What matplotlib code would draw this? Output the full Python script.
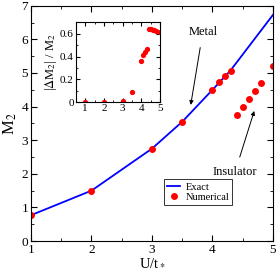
import matplotlib
matplotlib.use("Agg")
import matplotlib.pyplot as plt
from matplotlib.ticker import MultipleLocator, FuncFormatter

plt.rcParams['font.family'] = ['Liberation Serif', 'DejaVu Serif']
plt.rcParams['mathtext.fontset'] = 'stix'

# exact curve
u_exact = [1, 2, 3, 3.5, 4, 4.3, 5]
m2_exact = [0.77, 1.5, 2.75, 3.55, 4.5, 5.08, 6.73]

# numerical points
u_num = [1, 2, 3, 3.5, 4.0, 4.1, 4.2, 4.3, 4.4, 4.5, 4.6, 4.7, 4.8, 5.0]
m2_num = [0.77, 1.5, 2.75, 3.55, 4.49, 4.72, 4.92, 5.07, 3.76, 3.99, 4.22, 4.46, 4.70, 5.2]

# relative error (inset)
rel_err = [0.0, 0.0, 0.01, 0.085, 0.36, 0.41, 0.44, 0.47, 0.64, 0.64, 0.635, 0.63, 0.625, 0.615]

fig = plt.figure(figsize=(2.78, 2.73), dpi=100)
ax = fig.add_axes([0.1115, 0.117, 0.8705, 0.862])

ax.plot(u_exact, m2_exact, color='blue', lw=1.3, label='Exact')
ax.plot(u_num, m2_num, 'o', color='red', ms=5, mec='none', label='Numerical')
ax.set_xlim(1, 5)
ax.set_ylim(0, 7)
ax.xaxis.set_major_locator(MultipleLocator(1))
ax.xaxis.set_minor_locator(MultipleLocator(0.5))
ax.yaxis.set_major_locator(MultipleLocator(1))
ax.yaxis.set_minor_locator(MultipleLocator(0.5))
ax.tick_params(which='both', direction='in', top=True, right=True, labelsize=9.5, pad=2)
ax.tick_params(which='major', length=4)
ax.tick_params(which='minor', length=2)
ax.set_xlabel('U/t$_*$', fontsize=10.5, labelpad=0)
ax.set_ylabel('M$_2$', fontsize=12, labelpad=2)

ax.annotate('Metal', xy=(3.64, 4.05), xytext=(3.84, 6.22), fontsize=9,
            ha='center', va='center',
            arrowprops=dict(arrowstyle='-|>', color='black', lw=0.7,
                            mutation_scale=6, shrinkA=5, shrinkB=0))
ax.annotate('Insulator', xy=(4.69, 3.87), xytext=(4.37, 2.04), fontsize=9,
            ha='center', va='center',
            arrowprops=dict(arrowstyle='-|>', color='black', lw=0.7,
                            mutation_scale=6, shrinkA=5, shrinkB=0))

leg = ax.legend(loc='lower left', bbox_to_anchor=(0.548, 0.153), fontsize=7.5,
                frameon=True, fancybox=False, edgecolor='black',
                handlelength=1.3, handletextpad=0.5, borderpad=0.3,
                labelspacing=0.1, borderaxespad=0)
leg.get_frame().set_linewidth(0.7)

ins = fig.add_axes([0.273, 0.626, 0.3025, 0.292])
ins.plot(u_num, rel_err, 'o', color='red', ms=3.8, mec='none')
ins.set_xlim(0.5, 5)
ins.set_ylim(0, 0.7)
ins.xaxis.set_major_locator(MultipleLocator(1))
ins.xaxis.set_minor_locator(MultipleLocator(0.5))
ins.yaxis.set_major_locator(MultipleLocator(0.2))
ins.yaxis.set_minor_locator(MultipleLocator(0.1))
ins.yaxis.set_major_formatter(FuncFormatter(lambda v, p: '0' if v == 0 else f'{v:.1f}'))
ins.tick_params(which='both', direction='in', top=True, right=True, labelsize=8, pad=1.5)
ins.tick_params(which='major', length=3)
ins.tick_params(which='minor', length=1.5)
ins.set_ylabel(r'|$\Delta$M$_2$| / M$_2$', fontsize=9, labelpad=1)

fig.savefig('out.png', dpi=100)
